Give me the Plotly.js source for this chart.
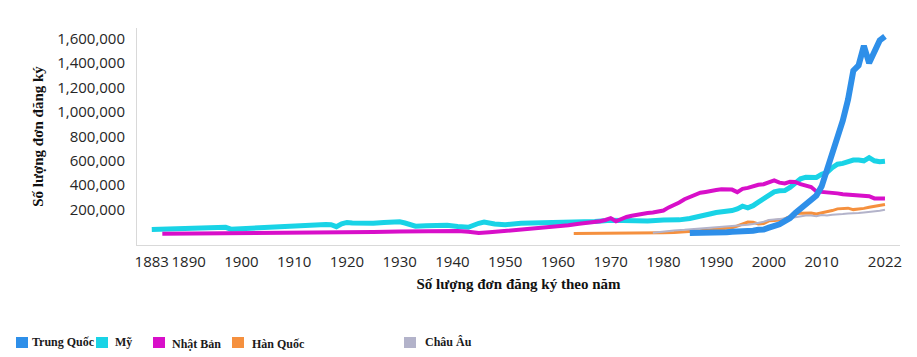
<!DOCTYPE html>
<html>
<head>
<meta charset="utf-8">
<script src="https://cdn.plot.ly/plotly-3.0.1.min.js"></script>
<style>
  html, body { margin: 0; padding: 0; background: #ffffff; }
  #chart { width: 917px; height: 357px; }
</style>
</head>
<body>
<div id="chart"></div>
<script>
// ---------------- DATA ----------------
const seriesNames = ["Trung Quốc", "Mỹ", "Nhật Bản", "Hàn Quốc", "Châu Âu"];

const xTickYears = [1883, 1890, 1900, 1910, 1920, 1930, 1940, 1950, 1960, 1970, 1980, 1990, 2000, 2010, 2022];
const yTickValues = [200000, 400000, 600000, 800000, 1000000, 1200000, 1400000, 1600000];

// Mỹ
const usYears = [1883, 1885, 1888, 1890, 1893, 1896, 1897, 1898, 1900, 1902, 1905, 1908, 1910, 1912, 1914, 1916, 1917, 1918, 1919, 1920, 1921, 1922, 1925, 1927, 1929, 1930, 1931, 1932, 1933, 1935, 1937, 1939, 1941, 1943, 1945, 1946, 1948, 1950, 1953, 1955, 1957, 1960, 1963, 1965, 1967, 1970, 1972, 1975, 1977, 1980, 1983, 1985, 1987, 1989, 1990, 1991, 1992, 1993, 1994, 1995, 1996, 1997, 1998, 1999, 2000, 2001, 2002, 2003, 2004, 2005, 2006, 2007, 2008, 2009, 2010, 2011, 2012, 2013, 2014, 2015, 2016, 2017, 2018, 2019, 2020, 2021, 2022];
const usValues = [38000, 40000, 42000, 43000, 42000, 48000, 55000, 40000, 45000, 52000, 58000, 63000, 67000, 72000, 75000, 77000, 76000, 60000, 84000, 95000, 90000, 88000, 88000, 95000, 102000, 100000, 90000, 72000, 64000, 68000, 75000, 72000, 62000, 55000, 88000, 98000, 82000, 76000, 88000, 90000, 88000, 92000, 100000, 104000, 102000, 112000, 108000, 110000, 106000, 115000, 116000, 127000, 142000, 166000, 176000, 180000, 187000, 192000, 206000, 228000, 215000, 232000, 261000, 290000, 316000, 346000, 354000, 356000, 382000, 418000, 452000, 466000, 466000, 464000, 490000, 504000, 543000, 572000, 579000, 598000, 606000, 607000, 600000, 626000, 600000, 592000, 596000];

// Nhật Bản
const jpYears = [1885, 1890, 1895, 1900, 1905, 1910, 1915, 1920, 1925, 1930, 1935, 1938, 1941, 1943, 1945, 1947, 1950, 1953, 1956, 1958, 1960, 1962, 1964, 1966, 1968, 1969, 1970, 1971, 1972, 1973, 1974, 1975, 1976, 1977, 1978, 1979, 1980, 1981, 1982, 1983, 1984, 1985, 1986, 1987, 1988, 1989, 1990, 1991, 1992, 1993, 1994, 1995, 1996, 1997, 1998, 1999, 2000, 2001, 2002, 2003, 2004, 2005, 2006, 2007, 2008, 2009, 2010, 2011, 2012, 2013, 2014, 2015, 2016, 2017, 2018, 2019, 2020, 2021, 2022];
const jpValues = [2000, 3000, 4000, 5000, 6000, 8000, 10000, 14000, 17000, 21000, 24000, 27000, 25000, 18000, 8000, 14000, 25000, 35000, 45000, 52000, 58000, 72000, 84000, 92000, 105000, 115000, 130000, 104000, 125000, 140000, 150000, 160000, 168000, 172000, 176000, 182000, 192000, 218000, 237000, 258000, 285000, 302000, 320000, 338000, 345000, 355000, 360000, 366000, 368000, 364000, 343000, 370000, 378000, 391000, 404000, 408000, 428000, 440000, 421000, 415000, 428000, 427000, 408000, 396000, 385000, 349000, 345000, 343000, 343000, 333000, 326000, 322000, 320000, 320000, 315000, 310000, 292000, 291000, 291000];

// Hàn Quốc
const krYears = [1963, 1965, 1970, 1975, 1978, 1980, 1982, 1984, 1985, 1986, 1987, 1988, 1989, 1990, 1991, 1992, 1993, 1994, 1995, 1996, 1997, 1998, 1999, 2000, 2001, 2002, 2003, 2004, 2005, 2006, 2007, 2008, 2009, 2010, 2011, 2012, 2013, 2014, 2015, 2016, 2017, 2018, 2019, 2020, 2021, 2022];
const krValues = [5000, 5000, 6000, 8000, 9000, 11000, 13000, 16000, 20000, 23000, 26000, 30000, 34000, 40000, 42000, 45000, 52000, 66000, 84000, 98000, 96000, 82000, 86000, 108000, 111000, 114000, 124000, 145000, 165000, 171000, 174000, 172000, 165000, 172000, 180000, 192000, 206000, 210000, 212000, 200000, 204000, 210000, 220000, 228000, 238000, 242000];

// Châu Âu
const euYears = [1978, 1979, 1980, 1982, 1984, 1985, 1987, 1989, 1990, 1992, 1994, 1995, 1996, 1997, 1998, 1999, 2000, 2001, 2002, 2003, 2004, 2005, 2006, 2007, 2008, 2009, 2010, 2011, 2012, 2013, 2014, 2015, 2016, 2017, 2018, 2019, 2020, 2021, 2022];
const euValues = [10000, 16000, 22000, 29000, 34000, 37000, 45000, 54000, 58000, 62000, 68000, 70000, 76000, 82000, 90000, 100000, 114000, 118000, 118000, 124000, 132000, 138000, 148000, 152000, 152000, 146000, 156000, 152000, 158000, 164000, 164000, 168000, 168000, 172000, 176000, 180000, 182000, 190000, 198000];

// Trung Quốc
const cnYears = [1985, 1986, 1987, 1988, 1989, 1990, 1991, 1992, 1993, 1994, 1995, 1996, 1997, 1998, 1999, 2000, 2001, 2002, 2003, 2004, 2005, 2006, 2007, 2008, 2009, 2010, 2011, 2012, 2013, 2014, 2015, 2016, 2017, 2018, 2019, 2020, 2021, 2022];
const cnValues = [8500, 8000, 9000, 11000, 10000, 10000, 11000, 14000, 19000, 19000, 19000, 24000, 27000, 35000, 37000, 52000, 63000, 80000, 105000, 130000, 173000, 210000, 245000, 290000, 315000, 391000, 526000, 653000, 825000, 928000, 1102000, 1339000, 1382000, 1542000, 1401000, 1497000, 1586000, 1619000];

// ---------------- STYLE ----------------
const colors = {
  "Trung Quốc": "#2e8fe9",
  "Mỹ": "#19d3e6",
  "Nhật Bản": "#d80fc9",
  "Hàn Quốc": "#f5903e",
  "Châu Âu": "#b3b3ca"
};
const widths = { "Trung Quốc": 6, "Mỹ": 5, "Nhật Bản": 4, "Hàn Quốc": 3, "Châu Âu": 2 };

const seriesData = {
  "Trung Quốc": [cnYears, cnValues],
  "Mỹ": [usYears, usValues],
  "Nhật Bản": [jpYears, jpValues],
  "Hàn Quốc": [krYears, krValues],
  "Châu Âu": [euYears, euValues]
};

// draw order: China on top
const drawOrder = ["Mỹ", "Nhật Bản", "Hàn Quốc", "Châu Âu", "Trung Quốc"];
const traces = drawOrder.map(name => ({
  type: "scatter",
  mode: "lines",
  name: name,
  x: seriesData[name][0],
  y: seriesData[name][1],
  line: { color: colors[name], width: widths[name], shape: "linear" },
  showlegend: false,
  hovertemplate: "%{x}: %{y:,}<extra>" + name + "</extra>"
}));

// plot area in pixels
const W = 917, H = 357;
const M = { l: 137, r: 17, t: 28, b: 112 };
const pw = W - M.l - M.r, ph = H - M.t - M.b;
const px = x => (x - M.l) / pw;
const py = y => (H - M.b - y) / ph;

// custom legend (squares + labels) matching the reference spacing
const legendPos = {
  "Trung Quốc": [16, 30],
  "Mỹ": [96, 113],
  "Nhật Bản": [153, 170],
  "Hàn Quốc": [232, 250],
  "Châu Âu": [404, 423]
};
const legendShapes = seriesNames.map(n => ({
  type: "rect", xref: "paper", yref: "paper",
  x0: px(legendPos[n][0]), x1: px(legendPos[n][0] + 12),
  y0: py(348), y1: py(337),
  fillcolor: colors[n], line: { width: 0 }
}));
const legendAnn = seriesNames.map(n => ({
  xref: "paper", yref: "paper",
  x: px(legendPos[n][1]), y: py(n === "Nhật Bản" || n === "Hàn Quốc" ? 344 : 342),
  xanchor: "left", yanchor: "middle",
  text: n, showarrow: false,
  font: { family: "Liberation Serif, Times New Roman, serif", size: 12, color: "#1a1a1a", weight: "bold" }
}));

const tickFont = { family: "Open Sans, Noto Sans, sans-serif", size: 15, color: "#262626" };
const titleFont = { family: "Liberation Serif, Times New Roman, serif", size: 15, color: "#111111", weight: "bold" };

const layout = {
  width: W, height: H,
  margin: M,
  paper_bgcolor: "#ffffff",
  plot_bgcolor: "#ffffff",
  showlegend: false,
  xaxis: {
    range: [1880.2, 2024.85],
    tickmode: "array",
    tickvals: xTickYears,
    ticktext: xTickYears.map(String),
    showgrid: false, zeroline: false,
    showline: true, linecolor: "#d9d9d9", linewidth: 1,
    ticks: "", ticklabelstandoff: 3,
    tickfont: tickFont,
    title: { text: "<b>Số lượng đơn đăng ký theo năm</b>", font: titleFont, standoff: 8 }
  },
  yaxis: {
    range: [-90000, 1688000],
    tickmode: "array",
    tickvals: yTickValues,
    tickformat: ",",
    showgrid: false, zeroline: false,
    showline: true, linecolor: "#d9d9d9", linewidth: 1,
    ticks: "", ticklabelstandoff: 8,
    tickfont: tickFont,
    title: { text: "<b>Số lượng đơn đăng ký</b>", font: titleFont, standoff: 9 }
  },
  shapes: legendShapes,
  annotations: legendAnn
};

Plotly.newPlot("chart", traces, layout, { displayModeBar: false, staticPlot: true });
</script>
</body>
</html>
